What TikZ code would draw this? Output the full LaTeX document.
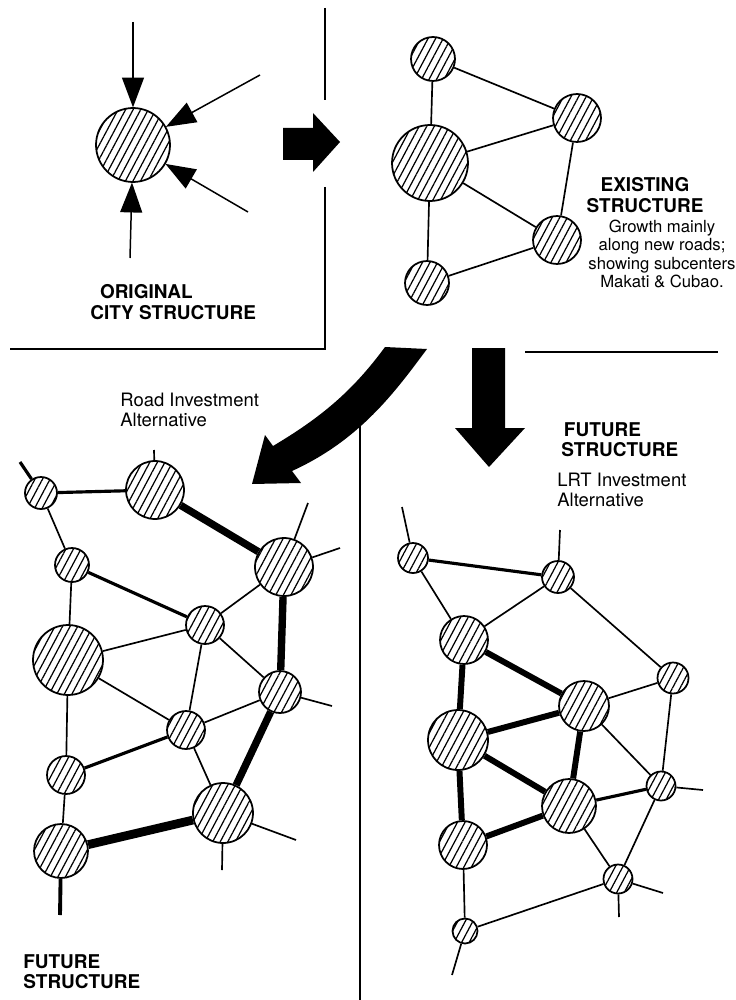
\documentclass[tikz,border=0pt]{standalone}
\usepackage{fontspec}
\setmainfont{TeX Gyre Heros}
\usetikzlibrary{arrows.meta,patterns.meta}

\tikzset{
  hub/.style={circle,draw,line width=1pt,inner sep=0pt,preaction={fill=white},
    pattern={Lines[angle=62,distance=3.8pt,line width=0.7pt]}},
  lane/.style={line width=0.95pt},
  avenue/.style={line width=1.8pt},
  trunk/.style={line width=4.2pt},
  rail/.style={line width=3.4pt},
  feed/.style={line width=0.85pt,-{Triangle[length=17pt,width=12.5pt]}},
  heading/.style={font=\fontsize{10.8}{11.5}\selectfont\bfseries,inner sep=0pt},
  caption/.style={font=\fontsize{10.5}{11.5}\selectfont,align=left,inner sep=0pt},
  remark/.style={font=\fontsize{9.5}{10.3}\selectfont,align=center,inner sep=0pt},
}

\begin{document}
\begin{tikzpicture}[x=0.02cm,y=-0.02cm,>=Latex]
  \useasboundingbox (0,0) rectangle (736,1000);

  % panel rules
  \draw[line width=1pt] (325,8) -- (325,100);
  \draw[line width=1pt] (325,187) -- (325,349) -- (10,349);
  \draw[line width=1pt] (525,352) -- (718,352);
  \draw[line width=1pt] (360,425) -- (360,1000);

  % centres: name/x/y/radius
  \foreach \n/\x/\y/\r in {
    oc/133/145/37,
    ea/433/59/22, eb/577/118/24, ec/430/163/38, ed/557/240/24, ee/427/283/22,
    r1/41/493/16, r2/155/490/29, r3/284/567/29, r4/72/565/17, r5/205/625/19,
    r6/68/660/35, r7/280/692/21, r8/186/730/19, r9/66/775/19, r10/223/813/30,
    r11/61/851/27,
    l1/413/558/15, l2/558/577/16, l3/464/640/24, l4/673/678/15.5, l5/584/706/25,
    l6/458/740/30, l7/661/786/14.5, l8/569/806/27, l9/463/845/24, l10/618/879/14.5,
    l11/465/931/12.5}
    \node[hub,minimum size=\r*0.04cm] (\n) at (\x,\y) {};

  % loose road ends
  \foreach \n/\x/\y in {in1/133/22, in2/260/75, in3/248/212, in4/130/258,
    s1/20/462, s2/154/450, s3/308/503, s4/340/548, s5/332/706, s6/222/870,
    s7/296/840, s8/60/915,
    t1/402/507, t2/560/530, t3/703/790, t4/663/893, t5/619/917, t6/452/975}
    \coordinate (\n) at (\x,\y);

  \foreach \a in {in1,in2,in3,in4}
    \draw[feed] (\a) -- (oc);

  \foreach \a/\b in {ea/eb, ea/ec, ec/eb, ec/ed, eb/ed, ec/ee, ee/ed}
    \draw[lane] (\a) -- (\b);

  \foreach \a/\b in {r1/r4, r3/r5, r4/r6, r6/r5, r5/r8, r5/r7, r6/r8, r6/r9,
    r8/r7, r8/r10, r9/r11, r2/s2, r3/s3, r3/s4, r7/s5, r10/s6, r10/s7}
    \draw[lane] (\a) -- (\b);
  \foreach \a/\b in {r1/r2, r4/r5, r8/r9, r1/s1}
    \draw[avenue] (\a) -- (\b);
  \foreach \a/\b in {r2/r3, r3/r7, r7/r10}
    \draw[trunk] (\a) -- (\b);
  \draw[line width=5pt] (r11) -- (r10);
  \draw[line width=2.2pt] (r11) -- (s8);

  \foreach \a/\b in {l1/l3, l2/l3, l2/l4, l5/l4, l5/l7, l4/l7, l8/l10, l7/l10,
    l9/l11, l11/l10, l1/t1, l2/t2, l7/t3, l10/t4, l10/t5, l11/t6}
    \draw[lane] (\a) -- (\b);
  \foreach \a/\b in {l1/l2, l8/l7}
    \draw[avenue] (\a) -- (\b);
  \foreach \a/\b in {l3/l5, l3/l6, l6/l5, l6/l8, l5/l8, l6/l9, l9/l8}
    \draw[rail] (\a) -- (\b);

  % big arrows between panels
  \fill (283,128) -- (313,128) -- (313,113) -- (340,142) -- (313,172) -- (313,160) -- (283,160) -- cycle;
  \fill (472,348) -- (505,348) -- (505,428) -- (525,428) -- (489,467) -- (455,428) -- (472,428) -- cycle;
  \fill (385,347) -- (427,349) .. controls (395,392) and (360,440) .. (292,471)
    -- (301,483) -- (252,484) -- (265,435) -- (273,446)
    .. controls (320,418) and (352,392) .. (385,347) -- cycle;

  \node[heading,align=left,anchor=west] (orig) at (90,302) {\hspace*{5.5pt}ORIGINAL\\CITY STRUCTURE};
  \node[heading,align=center] (exist) at (645,195) {EXISTING\\STRUCTURE};
  \node[remark] (growth) at (662,254) {Growth mainly\\along new roads;\\showing subcenters\\Makati \& Cubao.};
  \node[caption,anchor=west] (roadalt) at (120,410) {Road Investment\\Alternative};
  \node[heading,align=left,anchor=west] (futr) at (561,440) {\hspace*{1.5pt}FUTURE\\STRUCTURE};
  \node[caption,anchor=west] (lrt) at (557,490) {LRT Investment\\Alternative};
  \node[heading,align=left,anchor=west] (futl) at (23,972) {FUTURE\\STRUCTURE};
\end{tikzpicture}
\end{document}
